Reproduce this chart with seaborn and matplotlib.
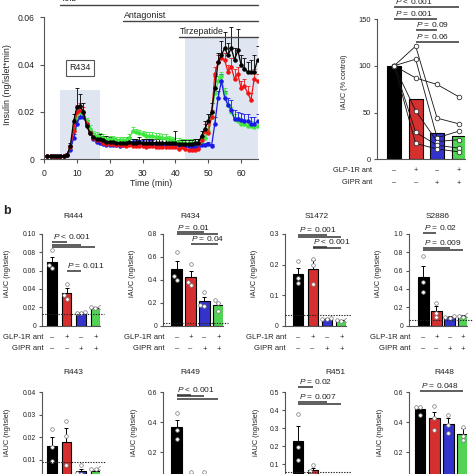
import numpy as np
import pandas as pd
import seaborn as sns
import matplotlib.pyplot as plt
import matplotlib.transforms as mtransforms

# ---------------- data ----------------
conditions = ["Control", "GLP-1R ant", "GIPR ant", "GLP-1R ant + GIPR ant"]
glp1r_signs = ["–", "+", "–", "+"]
gipr_signs = ["–", "–", "+", "+"]

# panel a: perifusion time course, insulin in 1e-3 ng/islet*min
time_min = list(range(1, 66))
ins_ctrl = [1.3, 1.3, 1.2, 1.2, 1.3, 1.4, 2.0, 5.5, 16, 22, 22.5, 20, 14, 11, 9.5, 8.5,
            8.5, 8, 7.5, 7.5, 7.5, 7, 7, 7, 7, 7.5, 7, 7, 7.5, 7, 7, 7, 7, 7, 7, 7, 7, 7,
            7, 7, 6.5, 6.5, 6.5, 6.5, 6.5, 7, 7, 10, 13, 16, 20, 30, 41, 44, 47, 44, 47,
            42, 46, 40, 38, 37, 37, 37, 42]
ins_glp = [1.2, 1.2, 1.2, 1.1, 1.2, 1.3, 2.0, 5, 12, 20, 21, 20, 15, 11, 9, 8,
           8, 7, 6.5, 6.5, 6.5, 6, 6, 6, 5.5, 6, 5.5, 5.5, 5.5, 5.5, 5, 5.5, 5.5, 5, 5, 5,
           5, 5, 5, 5, 4.5, 5, 4.5, 4, 4, 4, 4.5, 8, 12, 11, 18, 36, 41, 43, 42, 37, 39,
           34, 36, 30, 31, 28, 25, 34, 33]
ins_gipr = [1.2, 1.2, 1.2, 1.2, 1.2, 1.3, 1.8, 4, 9, 15, 18, 18, 15, 11, 8.5, 7.5,
            7, 6.5, 6, 6, 6, 6, 5.5, 6, 6, 6.5, 7.5, 7, 7, 7, 6.5, 7, 7, 6.5, 6.5, 6.5,
            6, 6, 6, 6, 6, 6, 5.5, 5.5, 5, 5, 5, 6, 6, 6.5, 5.5, 15, 26, 33, 26, 23, 21,
            17, 17, 16.5, 16, 16, 15, 15, 16]
ins_both = [1.2, 1.2, 1.2, 1.2, 1.2, 1.3, 1.8, 4.5, 13, 18, 20, 19, 16, 13, 10.5, 10,
            9.5, 9, 8.5, 8.5, 8.5, 8, 8, 8, 8, 9, 12, 11.5, 11, 10.5, 10, 10, 10, 9.5,
            9.5, 9, 9, 8.5, 8, 7.5, 7.5, 7, 7, 7, 7, 7, 7, 7, 9, 12, 18, 28, 33, 35, 28,
            23, 20, 17, 16, 15, 15, 14, 14, 13.5, 14]
sem_ctrl = [0.3, 0.3, 0.3, 0.3, 0.3, 0.3, 0.5, 1.5, 3, 8, 5, 4, 1.5, 1.5, 1.5, 1.5,
            2, 2, 2.5, 2, 1.5, 1.5, 1.5, 1.5, 1.5, 2, 1.5, 1.5, 2, 1.5, 1.5, 1.5, 1.5,
            1.5, 1.5, 1.5, 1.5, 1.5, 1.5, 5, 1.5, 1.5, 1.5, 1.5, 1.5, 1.5, 1.5, 2, 3, 3,
            4, 5, 4, 6, 7, 5, 9, 5, 9, 4, 5, 4, 5, 7, 6]
sem_glp = [0.3, 0.3, 0.3, 0.3, 0.3, 0.3, 0.4, 1, 2, 3, 3, 2, 1.5, 1, 1, 1,
           1, 1, 1, 1, 1, 1, 1, 1, 1, 1, 1, 1, 1, 1, 1, 1, 1, 1, 1, 1, 1, 1, 1, 1, 1, 1,
           1, 1, 1, 1, 1, 2, 3, 4, 3, 3, 3, 2, 3, 3, 4, 4, 3, 3, 3, 3, 3, 4, 3]
sem_gipr = [0.3, 0.3, 0.3, 0.3, 0.3, 0.3, 0.4, 1, 1.5, 2, 2, 2, 1.5, 1, 1, 1,
            1, 1, 1, 1, 1, 1, 1, 1, 1, 1, 1, 1, 1, 1, 1, 1, 1, 1, 1, 1, 1, 1, 1, 1, 1, 1,
            1, 1, 1, 1, 1, 1, 1, 1, 1, 3, 3, 3, 3, 3, 4, 4, 3, 3, 3, 3, 3, 3, 3]
sem_both = [0.3, 0.3, 0.3, 0.3, 0.3, 0.3, 0.4, 1, 2, 2, 2, 2, 1.5, 1.5, 1.5, 1.5,
            1.5, 1.5, 1.5, 1.5, 1.5, 1.5, 1.5, 1.5, 1.5, 1.5, 1.5, 1.5, 1.5, 1.5, 1.5,
            1.5, 1.5, 1.5, 1.5, 1.5, 1.5, 1.5, 1.5, 1.5, 1.5, 1.5, 1.5, 1.5, 1.5, 1.5,
            1.5, 1.5, 2, 2, 2, 2, 2, 2, 2, 2, 2, 2, 2, 2, 2, 2, 2, 2, 2]

# panel a right: iAUC (% control), paired donors
pct_mean = [100, 65, 28, 25]
pair_ctrl = [100, 100, 100, 100, 100, 100]
pair_glp = [87, 121, 107, 52, 29, 17]
pair_gipr = [80, 44, 23, 19, 15, 11]
pair_both = [67, 38, 30, 21, 12, 8]

# panel b: iAUC (ng/islet) per donor, mean, SEM, replicates, baseline
r444_mean = [0.069, 0.035, 0.014, 0.019]
r444_sem = [0.006, 0.006, 0.001, 0.001]
r444_pts = [[0.083, 0.066, 0.063], [0.045, 0.033, 0.029], [0.015, 0.014, 0.014], [0.020, 0.020, 0.019]]
r444_base = 0.013

r434_mean = [0.49, 0.42, 0.21, 0.18]
r434_sem = [0.07, 0.06, 0.035, 0.02]
r434_pts = [[0.64, 0.43, 0.40], [0.54, 0.38, 0.35], [0.29, 0.18, 0.17], [0.22, 0.20, 0.13]]
r434_base = 0.02

s1472_mean = [0.168, 0.184, 0.022, 0.017]
s1472_sem = [0.02, 0.03, 0.002, 0.002]
s1472_pts = [[0.21, 0.155, 0.14], [0.218, 0.20, 0.135], [0.024, 0.022, 0.021], [0.019, 0.017, 0.016]]
s1472_base = 0.034

s2886_mean = [0.53, 0.16, 0.09, 0.10]
s2886_sem = [0.12, 0.05, 0.01, 0.01]
s2886_pts = [[0.76, 0.47, 0.37], [0.25, 0.14, 0.09], [0.10, 0.09, 0.08], [0.11, 0.10, 0.09]]
s2886_base = 0.065

r443_mean = [0.016, 0.018, 0.005, 0.0048]
r443_sem = [0.004, 0.006, 0.001, 0.0005]
r443_pts = [[0.0235, 0.0155, 0.0095], [0.027, 0.0205, 0.0075], [0.0075, 0.004, 0.0035], [0.0062, 0.006, 0.0058]]
r443_base = 0.009

r449_mean = [0.365, 0.027, 0.027, 0.005]
r449_sem = [0.05, 0.02, 0.02, 0.002]
r449_pts = [[0.46, 0.345, 0.29], [0.07, 0.006, 0.005], [0.07, 0.006, 0.005], [0.008, 0.004, 0.003]]
r449_base = 0.01

r451_mean = [0.23, 0.065, 0.01, 0.01]
r451_sem = [0.08, 0.015, 0.002, 0.002]
r451_pts = [[0.38, 0.195, 0.12], [0.095, 0.06, 0.04], [0.012, 0.01, 0.008], [0.012, 0.01, 0.008]]
r451_base = 0.055

r448_mean = [0.49, 0.43, 0.385, 0.32]
r448_sem = [0.01, 0.04, 0.04, 0.04]
r448_pts = [[0.505, 0.50, 0.45], [0.51, 0.43, 0.35], [0.45, 0.38, 0.33], [0.37, 0.31, 0.28]]

# significance: (label, [(bar_from, bar_to, y), ...])
pct_sig = [("$P$ < 0.001", [(0, 3, 162.5)]), ("$P$ = 0.001", [(0, 2, 150)]),
           ("$P$ = 0.09", [(1, 2, 138)]), ("$P$ = 0.06", [(1, 3, 125.7)])]
r444_sig = [("$P$ < 0.001", [(0, 1, 0.091), (0, 2, 0.0885), (0, 3, 0.086)]),
            ("$P$ = 0.011", [(1, 2, 0.0597)])]
r434_sig = [("$P$ = 0.01", [(0, 2, 0.814), (0, 3, 0.80)]), ("$P$ = 0.04", [(1, 3, 0.715)])]
s1472_sig = [("$P$ = 0.001", [(0, 2, 0.297), (0, 3, 0.291)]),
             ("$P$ < 0.001", [(1, 2, 0.259), (1, 3, 0.253)])]
s2886_sig = [("$P$ = 0.02", [(0, 1, 1.015)]), ("$P$ = 0.009", [(0, 2, 0.85), (0, 3, 0.824)])]
r449_sig = [("$P$ < 0.001", [(0, 1, 0.584), (0, 2, 0.573), (0, 3, 0.558)])]
r451_sig = [("$P$ = 0.02", [(0, 1, 0.532)]), ("$P$ = 0.007", [(0, 2, 0.445), (0, 3, 0.434)])]
r448_sig = [("$P$ = 0.048", [(0, 3, 0.61)])]

# ---------------- style ----------------
sns.set_theme(style="ticks")
plt.rcParams['font.family'] = ['Liberation Sans', 'DejaVu Sans']
plt.rcParams['mathtext.fontset'] = 'custom'
plt.rcParams['mathtext.rm'] = 'Liberation Sans'
plt.rcParams['mathtext.it'] = 'Liberation Sans:italic'
plt.rcParams['text.color'] = '#222222'

colors = ['#000000', '#f01414', '#1a1ae6', '#3ee83e']
axis_col = '#555555'
W = 474.0
fig = plt.figure(figsize=(4.74, 4.74), dpi=100)


def px_axes(x0, y0, x1, y1):
    # pixel box (top-left origin) -> figure axes
    return fig.add_axes([x0 / W, 1 - y1 / W, (x1 - x0) / W, (y1 - y0) / W])


def prism(ax, size, length=2.5, pad=2):
    for s in ['top', 'right']:
        ax.spines[s].set_visible(False)
    for s in ['left', 'bottom']:
        ax.spines[s].set_color(axis_col)
        ax.spines[s].set_linewidth(0.8)
    ax.tick_params(colors=axis_col, labelcolor='#222222', width=0.8,
                   length=length, pad=pad, labelsize=size)


def put_ylabel(ax, text, cx, cy, box, size):
    x0, y0, x1, y1 = box
    ax.set_ylabel(text, fontsize=size, va='center')
    ax.yaxis.set_label_coords((cx - x0) / (x1 - x0), (y1 - cy) / (y1 - y0))


def sig_lines(ax, sig, size):
    for label, lines in sig:
        for i, j, y in lines:
            ax.plot([i, j], [y, y], color='#333333', lw=1.1, clip_on=False,
                    solid_capstyle='butt', zorder=5)
        top = max(l[2] for l in lines)
        ax.annotate(label, xy=(lines[0][0], top), xytext=(0.5, 0.6),
                    textcoords='offset points', ha='left', va='bottom',
                    fontsize=size, annotation_clip=False)


def sign_rows(ax, ys, right_px, size):
    tr = mtransforms.blended_transform_factory(ax.transData, fig.transFigure)
    for name, signs, y in [("GLP-1R ant", glp1r_signs, ys[0]), ("GIPR ant", gipr_signs, ys[1])]:
        fig.text(right_px / W, 1 - y / W, name, ha='right', va='center', fontsize=size)
        for i, s in enumerate(signs):
            ax.text(i, 1 - y / W, s, transform=tr, ha='center', va='center', fontsize=size)


# ---------------- panel a, time course ----------------
box = (44, 17.3, 257.5, 159.3)
ax = px_axes(*box)
series = [("GLP-1R ant + GIPR ant", ins_both, sem_both, colors[3]),
          ("GIPR ant", ins_gipr, sem_gipr, colors[2]),
          ("GLP-1R ant", ins_glp, sem_glp, colors[1]),
          ("Control", ins_ctrl, sem_ctrl, colors[0])]
ax.axvspan(5, 17, ymin=0, ymax=0.0293 / 0.06, color='#dfe5f1', lw=0, zorder=0)
ax.axvspan(43, 65, ymin=0, ymax=0.0515 / 0.06, color='#dfe5f1', lw=0, zorder=0)
rows = []
for name, vals, sems, col in series:
    v = np.array(vals) / 1000
    e = np.array(sems) / 1000
    ax.errorbar(time_min, v, yerr=[np.zeros_like(e), e], fmt='none', ecolor=col,
                elinewidth=0.6, capsize=1.3, capthick=0.6, zorder=1.9)
    rows += [(t, y, name) for t, y in zip(time_min, v)]
tc = pd.DataFrame(rows, columns=['time', 'insulin', 'cond'])
sns.lineplot(data=tc, x='time', y='insulin', hue='cond', hue_order=[s[0] for s in series],
             palette=[s[3] for s in series], marker='o', markersize=3.2, markeredgewidth=0,
             linewidth=0.9, legend=False, ax=ax)
ax.set_xlim(0, 65)
ax.set_ylim(0, 0.06)
ax.set_xticks([0, 10, 20, 30, 40, 50, 60])
ax.set_yticks([0, 0.02, 0.04, 0.06])
ax.set_yticklabels(['0', '0.02', '0.04', '0.06'])
prism(ax, 6.2, length=3, pad=4)
ax.set_xlabel('Time (min)', fontsize=6.4, va='center')
ax.xaxis.set_label_coords(0.5, -(184 - 159.3) / (159.3 - 17.3))
put_ylabel(ax, 'Insulin (ng/islet*min)', 7.5, 85, box, 6.4)
for label, t0, y in [('Tolb', 5, 0.0653), ('Antagonist', 24, 0.0584), ('Tirzepatide', 41, 0.0517)]:
    ax.plot([t0, 65], [y, y], color='#444444', lw=1.0, clip_on=False, zorder=5)
    ax.annotate(label, xy=(t0, y), xytext=(0.5, 1), textcoords='offset points',
                ha='left', va='bottom', fontsize=6.4, annotation_clip=False)
ax.text(11, 0.0386, 'R434', ha='center', va='center', fontsize=6.4,
        bbox=dict(boxstyle='square,pad=0.4', fc='white', ec='#555555', lw=0.8))

# ---------------- panel a, % control ----------------
box = (377, 19, 465, 159.3)
ax = px_axes(*box)
sns.barplot(x=conditions, y=pct_mean, hue=conditions, order=conditions, hue_order=conditions,
            palette=colors, width=0.65, edgecolor='black', linewidth=0.8, errorbar=None,
            legend=False, ax=ax)
pairs = pd.DataFrame([(c, v, d) for c, vals in zip(conditions, [pair_ctrl, pair_glp, pair_gipr, pair_both])
                      for d, v in enumerate(vals)], columns=['cond', 'pct', 'donor'])
sns.lineplot(data=pairs, x='cond', y='pct', units='donor', estimator=None, sort=False,
             color='#111111', lw=0.6, marker='o', markersize=3.3, markerfacecolor='white',
             markeredgecolor='#333333', markeredgewidth=0.6, ax=ax, zorder=4)
ax.set_xlim(-0.8, 3.3)
ax.set_ylim(0, 150)
ax.set_yticks([0, 50, 100, 150])
ax.set_xticks([])
ax.set_xlabel('')
prism(ax, 5.4, length=2.5, pad=2)
put_ylabel(ax, 'iAUC (% control)', 345, 81.5, box, 5.3)
sig_lines(ax, pct_sig, 6.0)
sign_rows(ax, (171, 183), 372, 5.3)

# ---------------- panel b ----------------
fig.text(3 / W, 1 - 210.7 / W, 'b', fontsize=9, fontweight='bold', va='center')

panels = [
    ("R444", (42.3, 234, 99.8, 325.5), (-0.69, 3.3), 0.67, 0.10, ['0', '0.02', '0.04', '0.06', '0.08', '0.10'],
     r444_mean, r444_sem, r444_pts, r444_base, r444_sig, (73, 216), 7.5, True),
    ("R434", (163.3, 234, 223, 325.5), (-0.96, 3.33), 0.82, 0.8, ['0', '0.2', '0.4', '0.6', '0.8'],
     r434_mean, r434_sem, r434_pts, r434_base, r434_sig, (190, 216), 132, True),
    ("S1472", (285, 234, 346, 325.5), (-0.92, 3.32), 0.7, 0.3, ['0', '0.1', '0.2', '0.3'],
     s1472_mean, s1472_sem, s1472_pts, s1472_base, s1472_sig, (317, 216), 255, True),
    ("S2886", (409.3, 234, 467, 325.5), (-1.05, 3.3), 0.8, 1.0, ['0', '0.2', '0.4', '0.6', '0.8', '1.0'],
     s2886_mean, s2886_sem, s2886_pts, s2886_base, s2886_sig, (438, 216), 378, True),
    ("R443", (42.3, 392.3, 100, 482), (-0.66, 3.3), 0.67, 0.04, ['0', '0.01', '0.02', '0.03', '0.04'],
     r443_mean, r443_sem, r443_pts, r443_base, [], (73, 373), 7.5, False),
    ("R449", (163.3, 392.3, 223, 482), (-0.96, 3.33), 0.8, 0.6, ['0', '0.2', '0.4', '0.6'],
     r449_mean, r449_sem, r449_pts, r449_base, r449_sig, (190, 373), 135, False),
    ("R451", (285, 392.3, 346, 482), (-0.92, 3.32), 0.7, 0.5, ['0', '0.1', '0.2', '0.3', '0.4', '0.5'],
     r451_mean, r451_sem, r451_pts, r451_base, r451_sig, (335, 373), 257, False),
    ("R448", (409.3, 392.3, 467, 482), (-0.75, 3.3), 0.75, 0.6, ['0', '0.2', '0.4', '0.6'],
     r448_mean, r448_sem, r448_pts, None, r448_sig, (444, 373), 381, False),
]

for (title, box, xlim, bw, ytop, ylabels, means, sems, pts, base, sig,
     tpos, ylab_x, show_signs) in panels:
    ax = px_axes(*box)
    sns.barplot(x=conditions, y=means, hue=conditions, order=conditions, hue_order=conditions,
                palette=colors, width=bw, edgecolor='black', linewidth=0.8, errorbar=None,
                legend=False, ax=ax)
    ax.errorbar(range(4), means, yerr=[np.zeros(4), sems], fmt='none', ecolor='black',
                elinewidth=0.7, capsize=1.4, capthick=0.7, zorder=3)
    reps = pd.DataFrame([(c, v) for c, vals in zip(conditions, pts) for v in vals],
                        columns=['cond', 'val'])
    sns.swarmplot(data=reps, x='cond', y='val', order=conditions, color='white',
                  edgecolor='#777777', linewidth=0.5, size=2.6, ax=ax, zorder=4)
    if base is not None:
        ax.axhline(base, xmin=0, xmax=1.08, color='#222222', lw=0.8, ls=(0, (1.2, 1.2)),
                   clip_on=False, zorder=5)
    ax.set_xlim(*xlim)
    ax.set_ylim(0, ytop)
    ax.set_yticks(np.linspace(0, ytop, len(ylabels)))
    ax.set_yticklabels(ylabels)
    ax.set_xticks([])
    ax.set_xlabel('')
    prism(ax, 4.9, length=2.5, pad=2)
    ymid = 273 if show_signs else 432
    put_ylabel(ax, 'iAUC (ng/islet)', ylab_x, ymid, box, 5.3)
    fig.text(tpos[0] / W, 1 - tpos[1] / W, title, ha='center', va='center', fontsize=6.0)
    sig_lines(ax, sig, 6.0)
    if show_signs:
        sign_rows(ax, (337.5, 349), box[0] + 1, 5.5)

fig.savefig('out.png', dpi=100)
